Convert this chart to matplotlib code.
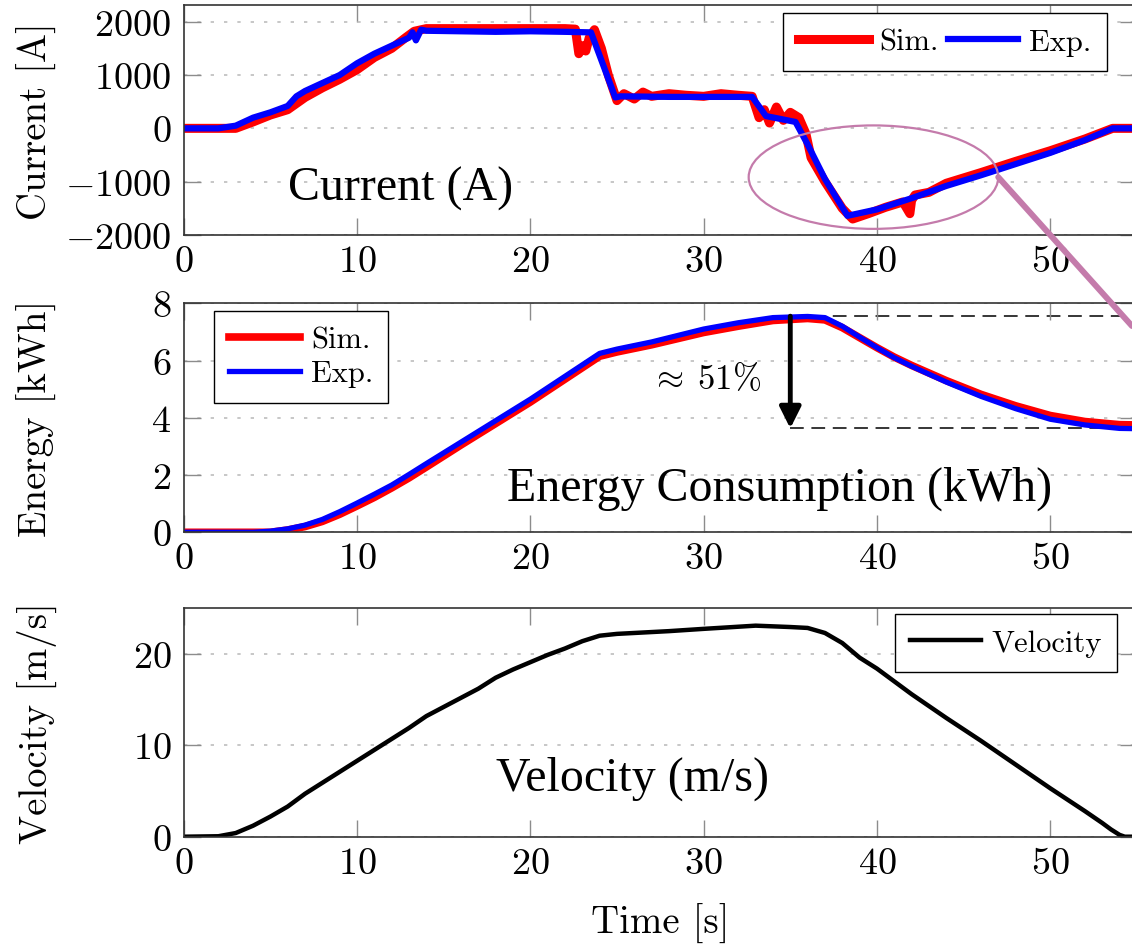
import matplotlib
matplotlib.use("Agg")
import matplotlib.pyplot as plt
from matplotlib.patches import Ellipse, ConnectionPatch

plt.rcParams['font.family'] = 'cmr10'
plt.rcParams['mathtext.fontset'] = 'cm'
plt.rcParams['axes.formatter.use_mathtext'] = True

# current [A]
t_cur_exp = [0, 2, 3, 4, 5, 6, 6.5, 7, 8, 9, 10, 11, 12, 13, 13.2, 13.4, 13.7, 14, 16, 18, 20, 22,
             23.5, 24.9, 25.2, 28, 30, 32.8, 33.6, 35.3, 36, 37, 38.3, 40, 42, 44, 46, 48, 50, 52, 53.6, 55]
cur_exp = [0, 0, 50, 200, 300, 420, 600, 700, 850, 1000, 1220, 1400, 1550, 1700, 1800, 1650, 1850, 1830,
           1820, 1810, 1820, 1810, 1800, 580, 600, 590, 590, 590, 230, 120, -300, -950, -1640, -1520,
           -1310, -1080, -880, -670, -460, -220, 0, 0]
t_cur_sim = [0, 2, 3, 4, 5, 6, 7, 8, 9, 10, 11, 12, 12.8, 13.3, 14, 16, 18, 20, 22, 22.6, 22.8, 23.0,
             23.2, 23.4, 23.7, 24.1, 24.5, 25.0, 25.4, 26, 26.5, 27, 28, 29, 30, 31, 32, 32.8, 33.2, 33.5,
             33.8, 34.2, 34.6, 35.0, 35.5, 35.9, 36.2, 37, 38, 38.6, 39.5, 40.5, 41.5, 41.9, 42.0, 42.2,
             43, 44, 46, 48, 50, 52, 53.6, 55]
cur_sim = [0, 0, 0, 120, 250, 350, 580, 760, 920, 1100, 1330, 1500, 1700, 1820, 1870, 1870, 1870, 1870,
           1870, 1860, 1400, 1550, 1450, 1700, 1850, 1500, 1000, 520, 650, 550, 680, 600, 650, 620, 600,
           650, 620, 600, 200, 350, 100, 400, 150, 300, 200, -100, -550, -1000, -1500, -1700, -1600,
           -1480, -1380, -1600, -1350, -1250, -1200, -1030, -830, -620, -420, -200, 0, 0]

# energy [kWh]
t_en = [0, 4, 5, 6, 7, 8, 9, 10, 11, 12, 13, 14, 16, 18, 20, 22, 24, 25, 27, 30, 32, 34, 36, 37, 38,
        39, 40, 41, 42, 44, 46, 48, 50, 52, 54, 55]
en_exp = [0, 0, 0.04, 0.12, 0.25, 0.45, 0.72, 1.02, 1.33, 1.65, 2.02, 2.4, 3.15, 3.9, 4.65, 5.45, 6.25,
          6.4, 6.65, 7.1, 7.32, 7.5, 7.54, 7.5, 7.2, 6.82, 6.45, 6.1, 5.8, 5.25, 4.75, 4.32, 3.95, 3.75,
          3.63, 3.62]
en_sim = [0, 0, 0, 0.08, 0.2, 0.38, 0.63, 0.92, 1.22, 1.55, 1.9, 2.28, 3.05, 3.8, 4.55, 5.35, 6.15,
          6.3, 6.55, 6.98, 7.2, 7.4, 7.47, 7.42, 7.15, 6.8, 6.45, 6.12, 5.83, 5.3, 4.82, 4.42, 4.08,
          3.87, 3.76, 3.75]
e_peak = 7.55
e_end = 3.63
t_drop = 35

# velocity [m/s]
t_vel = [0, 2, 3, 4, 5, 6, 7, 8, 9, 10, 11, 12, 13, 14, 15, 16, 17, 18, 19, 20, 21, 22, 23, 24, 25,
         28, 30, 33, 35, 36, 37, 38, 39, 40, 42, 44, 46, 48, 50, 52, 53, 53.5, 54, 54.3, 55]
vel = [0, 0.05, 0.4, 1.2, 2.2, 3.3, 4.7, 5.9, 7.1, 8.3, 9.5, 10.7, 11.9, 13.2, 14.2, 15.2, 16.2, 17.4,
       18.3, 19.1, 19.9, 20.6, 21.4, 22.0, 22.2, 22.5, 22.75, 23.1, 22.95, 22.85, 22.3, 21.2, 19.6,
       18.4, 15.6, 13.0, 10.5, 7.9, 5.3, 2.8, 1.5, 0.8, 0.2, 0, 0]

W, H = 1132, 945
fig = plt.figure(figsize=(W / 100, H / 100), dpi=100)
left = 183.7 / W
width = 953.2 / W
ax1 = fig.add_axes([left, 1 - 236 / H, width, 230 / H])
ax2 = fig.add_axes([left, 1 - 533.3 / H, width, 229 / H])
ax3 = fig.add_axes([left, 1 - 837.7 / H, width, 228.4 / H])

times = 'Liberation Serif'
pink = '#c47bab'
leg_kw = dict(fontsize=22, frameon=True, fancybox=False, edgecolor='black', framealpha=1,
              handlelength=2.3, handletextpad=0.36, borderaxespad=0)

for ax in (ax1, ax2, ax3):
    ax.set_xlim(0, 55)
    ax.set_xticks([0, 10, 20, 30, 40, 50])
    ax.tick_params(direction='in', length=12, width=1, color='#8c8c8c', top=True, right=True,
                   labelsize=27.5, pad=7)
    ax.tick_params(axis='y', pad=9)
    ax.grid(axis='y', linestyle=(0, (2, 6)), color='#bdbdbd', lw=1.2)
    for s in ax.spines.values():
        s.set_color('#333333')
        s.set_linewidth(1.2)
    ax.yaxis.set_label_coords(-0.133, 0.5)

# current
ax1.plot(t_cur_sim, cur_sim, color='#ff0000', lw=6.5, label='Sim.', solid_joinstyle='round')
ax1.plot(t_cur_exp, cur_exp, color='#0000ff', lw=4.5, label='Exp.', solid_joinstyle='round')
ax1.set_ylim(-2000, 2313)
ax1.set_yticks([-2000, -1000, 0, 1000, 2000])
ax1.set_ylabel('Current [A]', fontsize=28)
ax1.legend(loc='upper right', bbox_to_anchor=(0.9686, 0.965), ncol=2, columnspacing=0.3,
           borderpad=0.5, **leg_kw)
ax1.text(12.5, -1340, 'Current (A)', family=times, fontsize=34.5, ha='center', va='baseline')
ax1.add_patch(Ellipse((39.8, -915), 14.4, 1940, fill=False, edgecolor=pink, lw=1.6, zorder=5))
con = ConnectionPatch(xyA=(47.0, -915), coordsA=ax1.transData, xyB=(1.0, 1 - 327 / H),
                      coordsB='figure fraction', color=pink, lw=4.3, zorder=20)
fig.add_artist(con)

# energy
ax2.hlines([e_peak, e_end], t_drop, 55, colors='black', linestyles=(0, (9, 5)), lw=1.1, zorder=1)
ax2.plot(t_en, en_sim, color='#ff0000', lw=5.5, label='Sim.')
ax2.plot(t_en, en_exp, color='#0000ff', lw=3.8, label='Exp.')
ax2.annotate('', xy=(t_drop, e_end), xytext=(t_drop, e_peak),
             arrowprops=dict(arrowstyle='-|>', lw=3.5, color='black', mutation_scale=32,
                             shrinkA=0, shrinkB=0), zorder=6)
ax2.text(30.1, 5.03, r'$\approx\;51\%$', fontsize=25, ha='center', va='baseline')
ax2.set_ylim(0, 8)
ax2.set_yticks([0, 2, 4, 6, 8])
ax2.set_ylabel('Energy [kWh]', fontsize=28)
ax2.legend(loc='upper left', bbox_to_anchor=(0.032, 0.966), labelspacing=0.2, borderpad=0.5,
           **leg_kw)
ax2.text(34.37, 1.15, 'Energy Consumption (kWh)', family=times, fontsize=34.5, ha='center',
         va='baseline')

# velocity
ax3.plot(t_vel, vel, color='black', lw=3.2, label='Velocity')
ax3.set_ylim(0, 25)
ax3.set_yticks([0, 10, 20])
ax3.set_ylabel('Velocity [m/s]', fontsize=28)
ax3.set_xlabel('Time [s]', fontsize=28)
ax3.xaxis.set_label_coords(0.5, -0.29)
ax3.legend(loc='upper right', bbox_to_anchor=(0.9796, 0.974), borderpad=0.5, **leg_kw)
ax3.text(25.87, 5.17, 'Velocity (m/s)', family=times, fontsize=34.5, ha='center', va='baseline')

fig.savefig('out.png', dpi=100)
